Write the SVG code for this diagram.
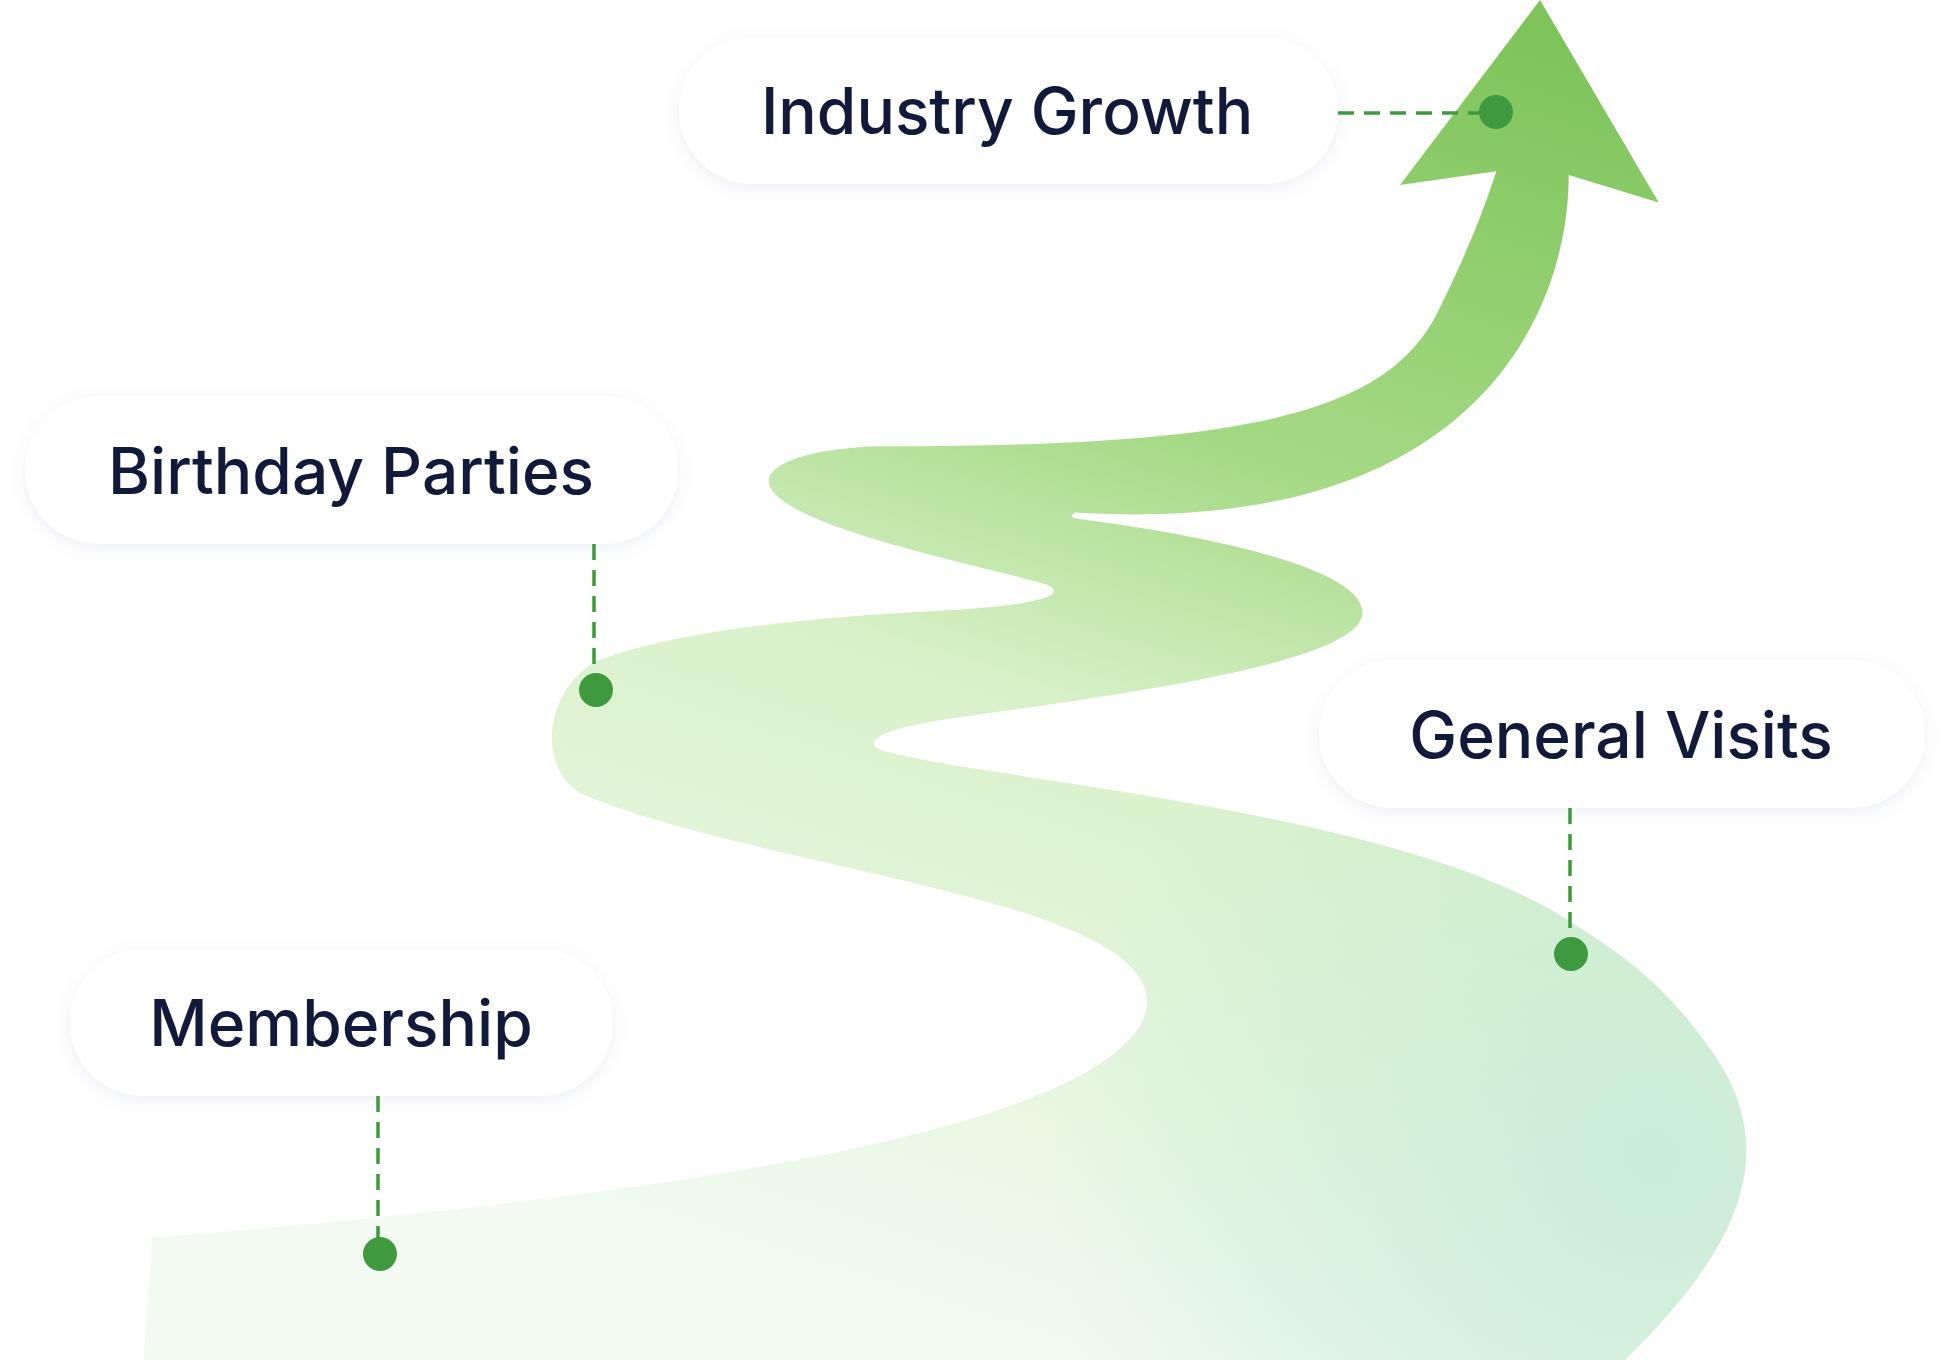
<svg xmlns="http://www.w3.org/2000/svg" width="1960" height="1360" viewBox="0 0 1960 1360">
<style>
.pill{fill:#fff;filter:url(#sh)}
.lbl{font-family:Inter,"Liberation Sans",sans-serif;font-size:64px;font-weight:500;fill:#111a3a;text-anchor:middle;dominant-baseline:central}
.dash{stroke:#3f9a3f;stroke-width:3.5;stroke-dasharray:16 10;fill:none}
.dot{fill:#3f9a3f}
</style>
<defs>
<filter id="sh" x="-20%" y="-40%" width="140%" height="180%"><feDropShadow dx="0" dy="4" stdDeviation="8" flood-color="#6a7aa0" flood-opacity="0.12"/></filter>
<linearGradient id="g" gradientUnits="userSpaceOnUse" x1="1150" y1="0" x2="800" y2="1088">
<stop offset="0" stop-color="#7ec45a"/><stop offset="0.35" stop-color="#a6da86"/><stop offset="0.55" stop-color="#d9f1c9"/><stop offset="1" stop-color="#f2faf2"/>
</linearGradient>
<radialGradient id="t" gradientUnits="userSpaceOnUse" cx="1320" cy="930" r="480">
<stop offset="0" stop-color="#c6ebd8" stop-opacity="0.85"/><stop offset="1" stop-color="#c6ebd8" stop-opacity="0"/>
</radialGradient>
<path id="rp" d="M122 990 C500 960 870 910 915 815 C950 720 620 700 465 635 C430 615 435 555 475 530 C560 495 740 490 760 488 C830 484 855 476 838 468 C800 455 610 420 615 383 C620 365 670 357 710 357 C1000 357 1110 330 1150 250 C1175 200 1190 160 1197 137 L1120 148 L1232 0 L1327 162 L1255 140 C1255 250 1180 430 860 410 C855 413 858 415 862 415 C1000 433 1090 460 1090 490 C1090 530 900 555 760 575 C690 585 690 598 712 602 C800 625 1130 650 1260 740 C1310 770 1340 800 1365 835 C1430 920 1390 1000 1300 1088 L115 1088 Z"/>
</defs>
<g id="road" transform="scale(1.25)">
<use href="#rp" fill="url(#g)"/>
<use href="#rp" fill="url(#t)"/>
</g>
<g id="connectors">
<line class="dash" x1="1338" y1="113" x2="1484" y2="113"/>
<line class="dash" x1="594" y1="544" x2="594" y2="672"/>
<line class="dash" x1="1570" y1="808" x2="1570" y2="935"/>
<line class="dash" x1="378" y1="1096" x2="378" y2="1245"/>
</g>
<g id="n-industry"><rect class="pill" x="679" y="37" width="659" height="147" rx="73"/><text class="lbl" x="1007" y="110">Industry Growth</text><circle class="dot" cx="1496" cy="112" r="17"/></g>
<g id="n-birthday"><rect class="pill" x="25" y="396" width="653" height="148" rx="74"/><text class="lbl" x="351" y="470">Birthday Parties</text><circle class="dot" cx="596" cy="690" r="17"/></g>
<g id="n-general"><rect class="pill" x="1319" y="660" width="606" height="148" rx="74"/><text class="lbl" x="1621" y="734">General Visits</text><circle class="dot" cx="1571" cy="954" r="17"/></g>
<g id="n-membership"><rect class="pill" x="70" y="949" width="543" height="147" rx="73"/><text class="lbl" x="341" y="1022">Membership</text><circle class="dot" cx="380" cy="1254" r="17"/></g>
</svg>
